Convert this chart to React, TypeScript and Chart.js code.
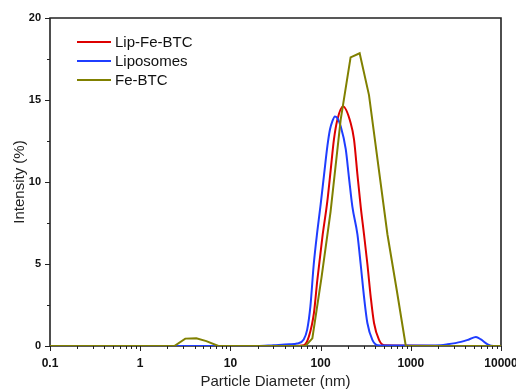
import React, { useEffect, useRef } from 'react';
import { Chart, registerables } from 'chart.js';

Chart.register(...registerables);

const FONT = "'Liberation Sans', Arial, Helvetica, sans-serif";
const AXIS_COLOR = '#222222';

const seriesNames = ['Lip-Fe-BTC', 'Liposomes', 'Fe-BTC'];
const seriesColors = ['#dd0000', '#1f3dff', '#808000'];

// Lip-Fe-BTC (red)
const lipFeBtcX = [0.1, 50, 65.2, 74.1, 84.3, 91.9, 104.4, 118.6, 129.2, 140.6, 153.4, 177.8, 215.4, 234.6, 255.6, 278.3, 302.9, 330.1, 359.3, 391.1, 444.4, 505, 10000];
const lipFeBtcY = [0, 0, 0.05, 0.57, 2.0, 4.0, 6.6, 8.8, 10.7, 12.6, 13.8, 14.6, 13.6, 12.6, 10.5, 8.5, 6.8, 5.0, 3.0, 1.4, 0.37, 0.05, 0];

// Liposomes (blue)
const liposomesX = [0.1, 20, 30, 45, 55, 65, 71, 77, 84, 92, 100, 109, 119, 127, 135, 144, 153, 167, 190, 206, 225, 256, 278, 303, 330, 375, 427, 500, 1000, 2154, 2557, 3594, 4410, 5275, 5995, 7110, 8360, 10000];
const liposomesY = [0, 0, 0.05, 0.1, 0.15, 0.4, 1.0, 2.4, 5.0, 7.0, 8.6, 10.4, 12.2, 13.2, 13.7, 14.0, 13.9, 13.4, 12.0, 10.3, 8.5, 6.8, 5.0, 3.0, 1.4, 0.37, 0.05, 0.03, 0.03, 0.05, 0.1, 0.25, 0.4, 0.55, 0.4, 0.1, 0, 0];

// Fe-BTC (olive)
const feBtcX = [0.1, 2.39, 3.16, 4.19, 5.41, 7.36, 68, 81, 102.5, 129, 167, 215, 271, 344, 551, 699, 880, 10000];
const feBtcY = [0, 0, 0.45, 0.47, 0.3, 0, 0, 0.47, 4.2, 8.2, 13.8, 17.6, 17.85, 15.3, 6.8, 3.4, 0, 0];

const xTickValues = [0.1, 1, 10, 100, 1000, 10000];
const xTickLabels = ['0.1', '1', '10', '100', '1000', '10000'];
const yTickValues = [0, 5, 10, 15, 20];
const yMinorStep = 2.5;

const xTitle = 'Particle Diameter (nm)';
const yTitle = 'Intensity (%)';

function toPoints(xs: number[], ys: number[]) {
  return xs.map((x, i) => ({ x, y: ys[i] }));
}

const framePlugin = {
  id: 'frame',
  beforeDatasetsDraw(chart: any) {
    const { ctx, chartArea, scales } = chart;
    const { left, right, top, bottom } = chartArea;
    const x = scales.x;
    const y = scales.y;
    ctx.save();
    ctx.strokeStyle = AXIS_COLOR;
    ctx.lineWidth = 1.6;
    ctx.beginPath();
    ctx.rect(left, top, right - left, bottom - top);
    ctx.stroke();
    ctx.lineWidth = 1;
    ctx.beginPath();
    for (let d = xTickValues[0]; d <= xTickValues[xTickValues.length - 1] * 1.0001; d *= 10) {
      for (let k = 1; k <= 9; k++) {
        const v = k * d;
        if (v > xTickValues[xTickValues.length - 1] * 1.0001) break;
        const px = Math.round(x.getPixelForValue(v)) + 0.5;
        const len = k === 1 ? 5 : 3;
        ctx.moveTo(px, bottom);
        ctx.lineTo(px, bottom + len);
      }
    }
    for (let v = yTickValues[0]; v <= yTickValues[yTickValues.length - 1] + 1e-6; v += yMinorStep) {
      const py = Math.round(y.getPixelForValue(v)) + 0.5;
      const len = Math.abs(v % 5) < 1e-6 ? 5 : 3;
      ctx.moveTo(left, py);
      ctx.lineTo(left - len, py);
    }
    ctx.stroke();
    ctx.restore();
  },
  afterDraw(chart: any) {
    const { ctx } = chart;
    ctx.save();
    ctx.font = `15px ${FONT}`;
    ctx.textBaseline = 'middle';
    ctx.textAlign = 'left';
    const rows = [42, 61, 80];
    chart.data.datasets.forEach((ds: any, i: number) => {
      const yy = rows[i];
      ctx.strokeStyle = ds.borderColor;
      ctx.lineWidth = 2;
      ctx.beginPath();
      ctx.moveTo(77, yy);
      ctx.lineTo(111, yy);
      ctx.stroke();
      ctx.fillStyle = '#111';
      ctx.fillText(ds.label, 115, yy + 0.5);
    });
    ctx.restore();
  },
};

export default function App() {
  const canvasRef = useRef<HTMLCanvasElement | null>(null);

  useEffect(() => {
    document.body.style.margin = '0';
    const canvas = canvasRef.current;
    if (!canvas) return;
    const allX = [lipFeBtcX, liposomesX, feBtcX];
    const allY = [lipFeBtcY, liposomesY, feBtcY];
    const orders = [2, 1, 0];
    const chart = new Chart(canvas, {
      type: 'line',
      data: {
        datasets: seriesNames.map((name, i) => ({
          label: name,
          data: toPoints(allX[i], allY[i]),
          borderColor: seriesColors[i],
          backgroundColor: seriesColors[i],
          borderWidth: 2,
          pointRadius: 0,
          fill: false,
          order: orders[i],
          tension: i === 2 ? 0 : 0.4,
          cubicInterpolationMode: i === 2 ? 'default' : 'monotone',
        })),
      },
      options: {
        responsive: false,
        animation: false,
        devicePixelRatio: 1,
        layout: { padding: { top: 18, right: 15, left: 0, bottom: 0 } },
        plugins: {
          legend: { display: false },
          tooltip: { enabled: false },
        },
        scales: {
          x: {
            type: 'logarithmic',
            min: 0.1,
            max: 10000,
            afterBuildTicks: (scale: any) => {
              scale.ticks = xTickValues.map((v) => ({ value: v, major: true }));
            },
            afterFit: (scale: any) => {
              scale.height = 45;
              scale.paddingLeft = 0;
              scale.paddingRight = 0;
            },
            ticks: {
              autoSkip: false,
              maxRotation: 0,
              padding: 5,
              color: '#111',
              font: { family: FONT, size: 12, weight: 'bold' },
              callback: (value: any) => {
                const idx = xTickValues.findIndex((t) => Math.abs(t - Number(value)) < 1e-9 * Math.max(1, t));
                return idx >= 0 ? xTickLabels[idx] : '';
              },
            },
            grid: { display: true, drawOnChartArea: false, drawTicks: true, tickLength: 5, color: 'rgba(0,0,0,0)' },
            border: { display: false },
            title: {
              display: true,
              text: xTitle,
              color: '#222',
              font: { family: FONT, size: 15 },
              padding: { top: 0, bottom: 0 },
            },
          },
          y: {
            type: 'linear',
            min: 0,
            max: 20,
            afterBuildTicks: (scale: any) => {
              scale.ticks = yTickValues.map((v) => ({ value: v }));
            },
            afterFit: (scale: any) => {
              scale.width = 50;
              scale.paddingTop = 0;
              scale.paddingBottom = 0;
            },
            ticks: {
              padding: 4,
              color: '#111',
              font: { family: FONT, size: 11, weight: 'bold' },
            },
            grid: { display: true, drawOnChartArea: false, drawTicks: true, tickLength: 5, color: 'rgba(0,0,0,0)' },
            border: { display: false },
            title: {
              display: true,
              text: yTitle,
              color: '#222',
              font: { family: FONT, size: 15 },
              padding: { top: 11, bottom: 0 },
            },
          },
        },
      },
      plugins: [framePlugin],
    } as any);
    return () => chart.destroy();
  }, []);

  return (
    <div style={{ position: 'absolute', left: 0, top: 0, width: 516, height: 391 }}>
      <canvas ref={canvasRef} width={516} height={391} style={{ width: 516, height: 391, display: 'block' }} />
    </div>
  );
}
